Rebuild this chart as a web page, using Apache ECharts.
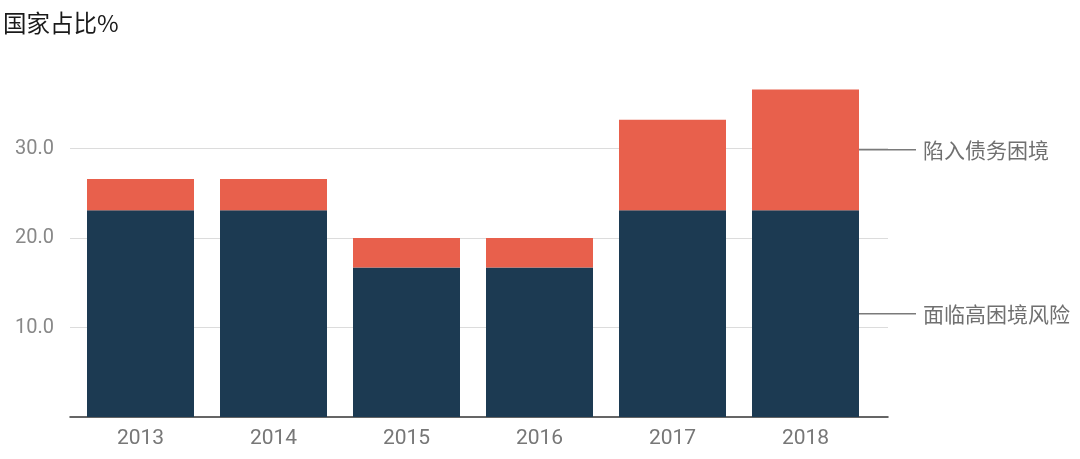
<!DOCTYPE html>
<html>
<head>
<meta charset="utf-8">
<script src="https://cdn.jsdelivr.net/npm/echarts@6/dist/echarts.min.js"></script>
<style>html,body{margin:0;padding:0;background:#fff;}#c{width:1080px;height:459px;}</style>
</head>
<body>
<div id="c"></div>
<script>
var categories = ['2013', '2014', '2015', '2016', '2017', '2018'];
var highRisk = [23.1, 23.1, 16.7, 16.7, 23.1, 23.1];
var inDistress = [3.5, 3.5, 3.3, 3.3, 10.1, 13.5];
var seriesNames = ['面临高困境风险', '陷入债务困境'];
var yTicks = [0, 10, 20, 30, 40];
var titleText = '国家占比%';

var chart = echarts.init(document.getElementById('c'));
var lastIdx = categories.length - 1;
function endLabel(name) {
  return {
    show: true,
    position: 'right',
    distance: 0,
    formatter: function (p) { return p.dataIndex === lastIdx ? '{ln|}{t|' + name + '}' : ''; },
    rich: {
      ln: { width: 57, height: 1.5, backgroundColor: '#7a7a7a' },
      t: { fontSize: 21, color: '#707070', padding: [0, 0, 0, 7], fontFamily: 'Noto Sans CJK SC' }
    }
  };
}
chart.setOption({
  animation: false,
  title: {
    text: titleText, left: -2, top: 6,
    textStyle: { fontSize: 23.5, fontWeight: 'normal', color: '#1a1a1a', fontFamily: 'Noto Sans CJK SC' }
  },
  grid: [
    { left: 70, right: 192, top: 59, bottom: 42 },
    { left: 74, right: 208, top: 59, bottom: 42 }
  ],
  xAxis: [
    { gridIndex: 0, type: 'value', min: 0, max: 1,
      axisLine: { show: true, lineStyle: { color: '#333', width: 1.5 } },
      axisTick: { show: false }, axisLabel: { show: false }, splitLine: { show: false } },
    { gridIndex: 1, type: 'category', data: categories,
      axisLine: { show: false }, axisTick: { show: false },
      axisLabel: { fontSize: 21, color: '#777', margin: 11, fontFamily: 'Roboto' } }
  ],
  yAxis: [
    { gridIndex: 0, type: 'value', min: yTicks[0], max: yTicks[yTicks.length - 1], interval: 10,
      axisLine: { show: false }, axisTick: { show: false },
      axisLabel: { fontSize: 20, color: '#888', margin: 16, fontFamily: 'Roboto',
        formatter: function (v) { return (v === 0 || v === 40) ? '' : v.toFixed(1); } },
      splitLine: { show: true, lineStyle: { color: ['rgba(0,0,0,0)', '#dcdcdc', '#dcdcdc', '#dcdcdc', 'rgba(0,0,0,0)'], width: 1 } } },
    { gridIndex: 1, type: 'value', min: yTicks[0], max: yTicks[yTicks.length - 1], interval: 10, show: false }
  ],
  series: [
    { name: seriesNames[0], type: 'bar', stack: 's', xAxisIndex: 1, yAxisIndex: 1,
      data: highRisk, barWidth: 107, itemStyle: { color: '#1c3a52' }, label: endLabel(seriesNames[0]), z: 3 },
    { name: seriesNames[1], type: 'bar', stack: 's', xAxisIndex: 1, yAxisIndex: 1,
      data: inDistress, barWidth: 107, itemStyle: { color: '#e8604c' }, label: endLabel(seriesNames[1]), z: 3 }
  ]
});
</script>
</body>
</html>
